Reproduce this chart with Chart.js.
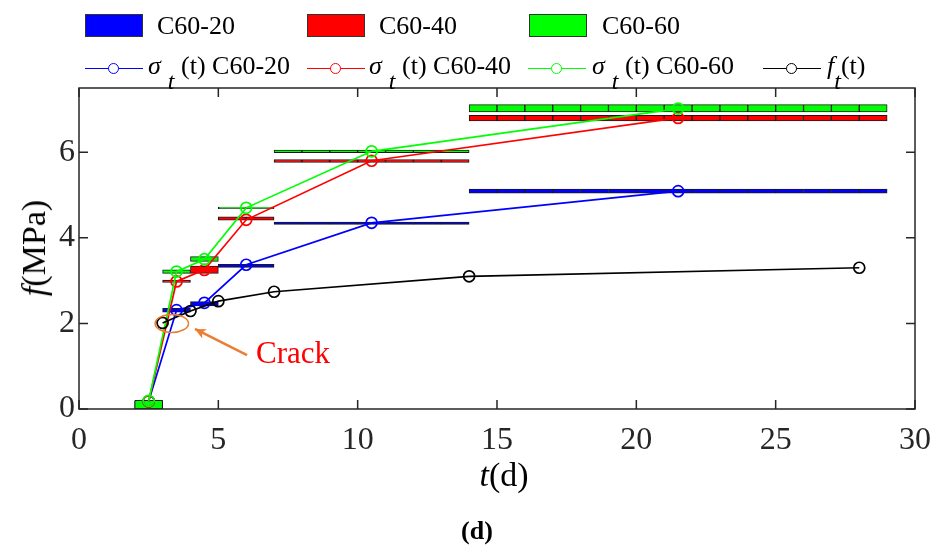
<!DOCTYPE html>
<html>
<head>
<meta charset="utf-8">
<script src="https://cdn.jsdelivr.net/npm/chart.js@4.4.1/dist/chart.umd.min.js"></script>
<style>
  body { margin: 0; background: #fff; }
  #wrap { position: relative; width: 947px; height: 545px; font-family: "Liberation Serif", "Times New Roman", serif; color: #000; }
  canvas { position: absolute; left: 0; top: 0; }
  .txt { position: absolute; white-space: nowrap; line-height: 1; }
  .patch { position: absolute; top: 14px; width: 58px; height: 23px; box-sizing: border-box; border: 1px solid #333; }
  .row1 { top: 13px; font-size: 26px; }
  .row2 { top: 53px; font-size: 26px; }
  .sample { position: absolute; top: 68px; width: 58px; height: 0; border-top: 1.5px solid; }
  .dot { position: absolute; top: -6px; left: 23px; width: 11px; height: 11px; box-sizing: border-box; border: 1.5px solid; border-radius: 50%; background: #fff; }
  .sub { position: relative; top: 15px; font-style: italic; font-size: 24px; margin-left: 7px; }
</style>
</head>
<body>
<div id="wrap">
  <canvas id="grafico" width="947" height="545"></canvas>

  <!-- leyenda fila 1 -->
  <div class="patch" style="left:85px;background:#0000ff"></div>
  <div class="txt row1" style="left:157px">C60-20</div>
  <div class="patch" style="left:307px;background:#ff0000"></div>
  <div class="txt row1" style="left:379px">C60-40</div>
  <div class="patch" style="left:529px;background:#00ff00"></div>
  <div class="txt row1" style="left:602px">C60-60</div>

  <!-- leyenda fila 2 -->
  <div class="sample" style="left:85px;border-color:#0000ff"><div class="dot" style="border-color:#0000ff"></div></div>
  <div class="txt row2" style="left:148px"><i>σ</i><span class="sub">t</span> (t) C60-20</div>
  <div class="sample" style="left:307px;border-color:#ff0000"><div class="dot" style="border-color:#ff0000"></div></div>
  <div class="txt row2" style="left:369px"><i>σ</i><span class="sub">t</span> (t) C60-40</div>
  <div class="sample" style="left:528px;border-color:#00ff00"><div class="dot" style="border-color:#00ff00"></div></div>
  <div class="txt row2" style="left:592px"><i>σ</i><span class="sub">t</span> (t) C60-60</div>
  <div class="sample" style="left:763px;border-color:#000"><div class="dot" style="border-color:#000"></div></div>
  <div class="txt row2" style="left:827px"><i>f</i><span class="sub" style="margin-left:0">t</span>(t)</div>

  <!-- titulos de ejes -->
  <div class="txt" style="left:34px;top:248px;font-size:34px;transform:translate(-50%,-50%) rotate(-90deg)"><i>f</i>(MPa)</div>
  <div class="txt" style="left:504px;top:475px;font-size:34px;transform:translate(-50%,-50%)"><i>t</i>(d)</div>
  <div class="txt" style="left:477px;top:531px;font-size:26px;font-weight:bold;transform:translate(-50%,-50%)">(d)</div>
</div>

<script>
// edades (d)
const dayStart = [2, 3, 4, 5, 7, 14];
const dayEnd = [3, 4, 5, 7, 14, 29];
const sigmaAge = [2.5, 3.5, 4.5, 6, 10.5, 21.5];
const ftAge = [3, 4, 5, 7, 14, 28];

// sigma_t(t) por mezcla, MPa
const sigmaC20 = [0.18, 2.31, 2.48, 3.37, 4.35, 5.09];
const sigmaC40 = [0.18, 2.98, 3.25, 4.42, 5.80, 6.80];
const sigmaC60 = [0.19, 3.21, 3.50, 4.70, 6.02, 7.02];
// f_t(t), MPa
const ftValues = [2.01, 2.29, 2.52, 2.74, 3.10, 3.30];

// bandas (min / max) por intervalo
const bandC20Low = [0, 2.26, 2.41, 3.31, 4.31, 5.04];
const bandC20High = [0.18, 2.35, 2.51, 3.38, 4.37, 5.14];
const bandC40Low = [0, 2.96, 3.17, 4.41, 5.76, 6.73];
const bandC40High = [0.18, 3.01, 3.34, 4.49, 5.83, 6.86];
const bandC60Low = [0, 3.17, 3.45, 4.68, 5.99, 6.94];
const bandC60High = [0.2, 3.25, 3.56, 4.72, 6.05, 7.11];

const xTicks = [0, 5, 10, 15, 20, 25, 30];
const yTicks = [0, 2, 4, 6];

// anotacion "Crack"
const crackLabel = "Crack";
const crackEllipse = { x: 3.33, y: 2.0, rx: 0.6, ry: 0.21 };
const crackArrow = { x1: 6.03, y1: 1.26, x2: 4.16, y2: 1.87 };
const crackText = { x: 6.35, y: 1.26 };

function bandData(lo, hi) {
  const out = [];
  dayStart.forEach((s, i) => {
    for (let d = s; d < dayEnd[i]; d++) out.push({ x: d + 0.5, y: [lo[i], hi[i]] });
  });
  return out;
}

function pts(xs, ys) {
  return xs.map((x, i) => ({ x: x, y: ys[i] }));
}

function barSet(data, color, order) {
  return {
    type: "bar",
    data: data,
    backgroundColor: color,
    borderColor: "#1a1a1a",
    borderWidth: 1,
    borderSkipped: false,
    barPercentage: 1,
    categoryPercentage: 1,
    grouped: false,
    order: order,
  };
}

function lineSet(data, color, order) {
  return {
    type: "line",
    data: data,
    borderColor: color,
    borderWidth: 1.7,
    pointRadius: 5.5,
    pointBorderWidth: 1.7,
    pointBorderColor: color,
    pointBackgroundColor: "rgba(0,0,0,0)",
    tension: 0,
    fill: false,
    order: order,
  };
}

const frame = {
  id: "frame",
  afterDraw(chart) {
    const { ctx, chartArea: a, scales } = chart;
    ctx.save();
    ctx.strokeStyle = "#262626";
    ctx.lineWidth = 1.5;
    ctx.strokeRect(a.left, a.top, a.right - a.left, a.bottom - a.top);
    ctx.beginPath();
    xTicks.forEach((v) => {
      const px = scales.x.getPixelForValue(v);
      ctx.moveTo(px, a.bottom); ctx.lineTo(px, a.bottom - 9);
      ctx.moveTo(px, a.top); ctx.lineTo(px, a.top + 9);
    });
    yTicks.forEach((v) => {
      const py = scales.y.getPixelForValue(v);
      ctx.moveTo(a.left, py); ctx.lineTo(a.left + 9, py);
      ctx.moveTo(a.right, py); ctx.lineTo(a.right - 9, py);
    });
    ctx.stroke();
    ctx.restore();
  },
};

const crackNote = {
  id: "crackNote",
  afterDatasetsDraw(chart) {
    const { ctx, scales: { x, y } } = chart;
    const cx = x.getPixelForValue(crackEllipse.x);
    const cy = y.getPixelForValue(crackEllipse.y);
    const rx = x.getPixelForValue(crackEllipse.x + crackEllipse.rx) - cx;
    const ry = cy - y.getPixelForValue(crackEllipse.y + crackEllipse.ry);
    ctx.save();
    ctx.strokeStyle = "#ed7d31";
    ctx.lineWidth = 1.5;
    ctx.beginPath();
    ctx.ellipse(cx, cy, rx, ry, 0, 0, Math.PI * 2);
    ctx.stroke();

    const x1 = x.getPixelForValue(crackArrow.x1), y1 = y.getPixelForValue(crackArrow.y1);
    const x2 = x.getPixelForValue(crackArrow.x2), y2 = y.getPixelForValue(crackArrow.y2);
    const ang = Math.atan2(y2 - y1, x2 - x1);
    ctx.lineWidth = 2.5;
    ctx.beginPath();
    ctx.moveTo(x1, y1);
    ctx.lineTo(x2, y2);
    ctx.stroke();
    ctx.fillStyle = "#ed7d31";
    ctx.beginPath();
    ctx.moveTo(x2, y2);
    ctx.lineTo(x2 - 12 * Math.cos(ang - 0.45), y2 - 12 * Math.sin(ang - 0.45));
    ctx.lineTo(x2 - 8 * Math.cos(ang), y2 - 8 * Math.sin(ang));
    ctx.lineTo(x2 - 12 * Math.cos(ang + 0.45), y2 - 12 * Math.sin(ang + 0.45));
    ctx.closePath();
    ctx.fill();

    ctx.fillStyle = "#ff0000";
    ctx.font = '31px "Liberation Serif"';
    ctx.textBaseline = "middle";
    ctx.fillText(crackLabel, x.getPixelForValue(crackText.x), y.getPixelForValue(crackText.y));
    ctx.restore();
  },
};

const tickFont = { family: "Liberation Serif", size: 32 };

new Chart(document.getElementById("grafico"), {
  type: "line",
  data: {
    datasets: [
      lineSet(pts(ftAge, ftValues), "#000000", 0),
      lineSet(pts(sigmaAge, sigmaC60), "#00ff00", 1),
      lineSet(pts(sigmaAge, sigmaC40), "#ff0000", 2),
      lineSet(pts(sigmaAge, sigmaC20), "#0000ff", 3),
      barSet(bandData(bandC60Low, bandC60High), "#00ff00", 4),
      barSet(bandData(bandC40Low, bandC40High), "#ff0000", 5),
      barSet(bandData(bandC20Low, bandC20High), "#0000ff", 6),
    ],
  },
  options: {
    responsive: false,
    animation: false,
    layout: { padding: { top: 88, right: 32, left: 0, bottom: 0 } },
    plugins: { legend: { display: false }, tooltip: { enabled: false } },
    scales: {
      x: {
        type: "linear",
        min: 0,
        max: 30,
        offset: false,
        grid: { display: false, drawTicks: false },
        border: { display: false },
        ticks: { stepSize: 5, font: tickFont, color: "#262626", padding: 12, maxRotation: 0, includeBounds: false },
        afterFit(s) { s.height = 136; },
      },
      y: {
        min: 0,
        max: 7.5,
        grid: { display: false, drawTicks: false },
        border: { display: false },
        ticks: { stepSize: 2, font: tickFont, color: "#262626", padding: 4, includeBounds: false },
        afterFit(s) { s.width = 79; },
      },
    },
  },
  plugins: [frame, crackNote],
});
</script>
</body>
</html>
